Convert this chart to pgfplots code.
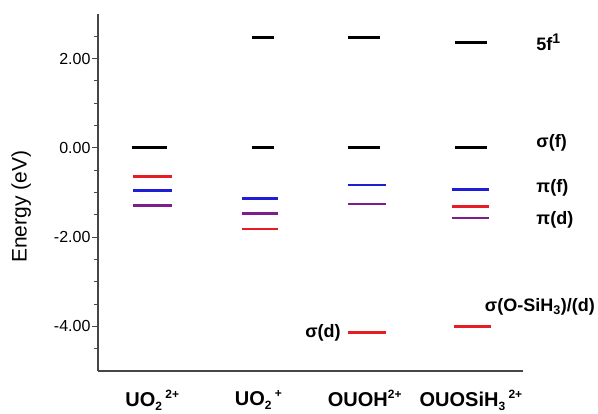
\documentclass[border=0pt]{standalone}
\usepackage{pgfplots}
\pgfplotsset{compat=1.18}
\usepackage{fontspec}
\setmainfont{Liberation Sans}
\definecolor{lvred}{RGB}{232,28,36}
\definecolor{lvblue}{RGB}{30,30,215}
\definecolor{lvpurple}{RGB}{125,30,140}
\definecolor{axgray}{RGB}{70,70,70}
\newcommand{\lsub}[1]{\raisebox{-4pt}{\fontsize{12}{12}\selectfont #1}}
\newcommand{\lsup}[1]{\raisebox{8pt}{\fontsize{12}{12}\selectfont #1}}
\begin{document}
\begin{tikzpicture}
\path[use as bounding box] (-98pt,-43pt) rectangle (500pt,371pt);
\begin{axis}[
  at={(0,0)}, anchor=south west,
  scale only axis, width=425pt, height=357pt,
  xmin=0.49, xmax=4.49, ymin=-5, ymax=3,
  axis lines=left, axis line style={axgray, line width=1.3pt, -},
  clip=false,
  xtick={1,2,3,4},
  xticklabels={UO\lsub{2}\,\lsup{2+},UO\lsub{2}\,\lsup{+},OUOH\lsup{2+},OUOSiH\lsub{3}\,\lsup{2+}},
  x tick style={draw=none},
  xticklabel style={font=\fontsize{20}{24}\selectfont\bfseries, yshift=-10pt},
  ytick={-4,-2,0,2}, minor ytick={-4.5,-3.5,-3,-2.5,-1.5,-1,-0.5,0.5,1,1.5,2.5},
  tick align=outside,
  y tick style={axgray, line width=1pt},
  major tick length=6pt, minor tick length=4pt,
  yticklabel style={font=\fontsize{16}{19}\selectfont, xshift=2pt},
  /pgf/number format/assume math mode=true,
  y tick label style={/pgf/number format/.cd, fixed, fixed zerofill, precision=2},
  ylabel={Energy (eV)},
  ylabel style={at={(axis description cs:-0.181,0.46)}, anchor=center, font=\fontsize{21}{25}\selectfont},
  unbounded coords=jump,
]
% black levels
\addplot[black, line width=2.8pt] coordinates {
 (0.81,0) (1.14,0) (nan,nan)
 (1.94,0) (2.15,0) (nan,nan)
 (1.94,2.47) (2.15,2.47) (nan,nan)
 (2.84,0) (3.14,0) (nan,nan)
 (2.84,2.47) (3.14,2.47) (nan,nan)
 (3.85,0) (4.15,0) (nan,nan)
 (3.85,2.36) (4.15,2.36)
};
% red levels
\addplot[lvred, line width=2.8pt] coordinates {
 (0.82,-0.65) (1.19,-0.65) (nan,nan)
 (1.85,-1.82) (2.18,-1.82) (nan,nan)
 (2.84,-4.14) (3.20,-4.14) (nan,nan)
 (3.82,-1.31) (4.17,-1.31) (nan,nan)
 (3.84,-4.01) (4.19,-4.01)
};
% blue levels
\addplot[lvblue, line width=2.8pt] coordinates {
 (0.82,-0.96) (1.19,-0.96) (nan,nan)
 (1.85,-1.14) (2.18,-1.14) (nan,nan)
 (2.84,-0.83) (3.20,-0.83) (nan,nan)
 (3.82,-0.93) (4.17,-0.93)
};
% purple levels
\addplot[lvpurple, line width=2.8pt] coordinates {
 (0.82,-1.30) (1.19,-1.30) (nan,nan)
 (1.85,-1.47) (2.18,-1.47) (nan,nan)
 (2.84,-1.26) (3.20,-1.26) (nan,nan)
 (3.82,-1.57) (4.17,-1.57)
};
\begin{scope}[every node/.style={font=\fontsize{18}{21}\selectfont\bfseries, inner sep=0pt}]
\node[anchor=west] at (axis cs:4.615,2.37) {5f\raisebox{7pt}{\fontsize{14}{14}\selectfont 1}};
\node[anchor=west] at (axis cs:4.615,0.11) {σ(f)};
\node[anchor=west] at (axis cs:4.615,-0.90) {π(f)};
\node[anchor=west] at (axis cs:4.615,-1.61) {π(d)};
\node[anchor=west] at (axis cs:4.13,-3.57) {σ(O-SiH\textsubscript{3})/(d)};
\node[anchor=east] at (axis cs:2.775,-4.14) {σ(d)};
\end{scope}
\end{axis}
\end{tikzpicture}
\end{document}
